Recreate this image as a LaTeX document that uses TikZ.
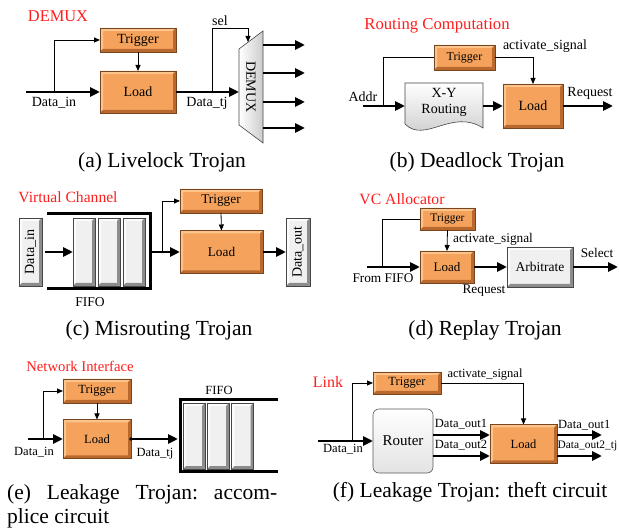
\documentclass[tikz,border=0pt]{standalone}
\usepackage{fontspec}
\setmainfont{Liberation Serif}
\usetikzlibrary{arrows.meta,calc}
\definecolor{orMain}{RGB}{245,163,92}
\definecolor{orLight}{RGB}{250,196,140}
\definecolor{orDark}{RGB}{185,105,45}
\definecolor{orLine}{RGB}{120,70,30}
\definecolor{gyMain}{RGB}{240,240,240}
\definecolor{gyLight}{RGB}{252,252,252}
\definecolor{gyDark}{RGB}{140,140,140}
\definecolor{gyLine}{RGB}{70,70,70}
\definecolor{ttlred}{RGB}{255,30,30}
\newcommand\fs[1]{\fontsize{#1}{#1}\selectfont}
\newcommand\bevelpic[2]{%
  \fill[#1] (path picture bounding box.north west) -- (path picture bounding box.north east)
    -- ([shift={(-3pt,-3pt)}]path picture bounding box.north east)
    -- ([shift={(3pt,-3pt)}]path picture bounding box.north west) -- cycle;
  \fill[#1] (path picture bounding box.north west) -- (path picture bounding box.south west)
    -- ([shift={(3pt,3pt)}]path picture bounding box.south west)
    -- ([shift={(3pt,-3pt)}]path picture bounding box.north west) -- cycle;
  \fill[#2] (path picture bounding box.south west) -- (path picture bounding box.south east)
    -- ([shift={(-3pt,3pt)}]path picture bounding box.south east)
    -- ([shift={(3pt,3pt)}]path picture bounding box.south west) -- cycle;
  \fill[#2] (path picture bounding box.north east) -- (path picture bounding box.south east)
    -- ([shift={(-3pt,3pt)}]path picture bounding box.south east)
    -- ([shift={(-3pt,-3pt)}]path picture bounding box.north east) -- cycle;
}
\tikzset{
  bevel/.style n args={4}{fill=#1, draw=#4, line width=0.6pt, path picture={\bevelpic{#2}{#3}}},
  obox/.style={bevel={orMain}{orLight}{orDark}{orLine}, inner sep=0pt, outer sep=0pt, font=\fs{14}},
  gbox/.style={bevel={gyMain}{gyLight}{gyDark}{gyLine}, inner sep=0pt, outer sep=0pt, font=\fs{14}},
  rbox/.style={draw=gray!70!black, line width=0.6pt, top color=white, bottom color=gray!22, rounded corners=6pt, inner sep=0pt, outer sep=0pt, font=\fs{15}},
  lbl/.style={inner sep=0pt, font=\fs{14}},
  ttl/.style={inner sep=0pt, text=ttlred, font=\fs{16}},
  captxt/.style={inner sep=0pt, font=\fs{21.5}},
  thk/.style={line width=2.6pt, -{Triangle[length=10pt,width=9pt]}},
  thkl/.style={line width=2.6pt},
  thn/.style={line width=0.8pt, -{Triangle[length=6pt,width=5pt]}},
  thnl/.style={line width=0.8pt},
  fifo/.style={line width=3pt, line join=miter},
}
\begin{document}
\begin{tikzpicture}[x=1pt,y=-1pt]
\useasboundingbox (0,0) rectangle (619,529);
\fill[white] (0,0) rectangle (619,529);
\clip (0,0) rectangle (619,529);

% ---------------- (a) ----------------
\node[ttl, font=\fs{16.4}] (a-ttl) at (58,16) {DEMUX};
\node[obox, minimum width=76pt, minimum height=24pt] (a-trig) at (138,40) {Trigger};
\node[obox, minimum width=76pt, minimum height=42pt] (a-load) at (138,92) {Load};
\coordinate (a-in) at (26,92);
\coordinate (a-br) at (54,92);
\draw[thk] (a-in) -- (a-load.west);
\draw[thn] (a-br) |- (a-trig.west);
\draw[thn] (a-trig.south) -- (a-load.north);
\node[lbl] (a-lin) at (54,103) {Data\_in};
\coordinate (a-dmTL) at (239,49);
\coordinate (a-dmTR) at (263,31);
\coordinate (a-dmBR) at (263,143);
\coordinate (a-dmBL) at (239,125);
\draw[gyLine, line width=0.6pt, left color=white, right color=gray!40] (a-dmTL) -- (a-dmTR) -- (a-dmBR) -- (a-dmBL) -- cycle;
\node[lbl, rotate=-90] (a-dm) at (251,87) {DEMUX};
\coordinate (a-dmin) at (239,92);
\draw[thk] (a-load.east) -- (a-dmin);
\coordinate (a-sel) at (212,92);
\coordinate (a-dmsel) at (248,42);
\draw[thn] (a-sel) |- ([yshift=14pt]a-dmsel) -- (a-dmsel);
\node[lbl] (a-sell) at (220,21) {sel};
\node[lbl] (a-ltj) at (207,103) {Data\_tj};
\foreach \yy [count=\k] in {45,73,102,128} {
  \coordinate (a-o\k) at (263,\yy);
  \coordinate (a-e\k) at (305,\yy);
  \draw[thk] (a-o\k) -- (a-e\k);
}
\node[captxt] (a-cap) at (162,162) {(a) Livelock Trojan};

% ---------------- (b) ----------------
\node[ttl, font=\fs{16.7}] (b-ttl) at (437,26) {Routing Computation};
\node[obox, font=\fs{12}, minimum width=61pt, minimum height=25pt] (b-trig) at (464.5,57.5) {Trigger};
\node[obox, minimum width=60pt, minimum height=44pt] (b-load) at (533,106) {Load};
\draw[gyLine, line width=0.6pt, top color=white, bottom color=gray!45]
  (405,83) -- (483,83) -- (483,128) .. controls (452,108) and (425,144) .. (405,124) -- cycle;
\node[lbl] (b-xy) at (444,93) {X-Y};
\node[lbl] (b-rt) at (444,110) {Routing};
\coordinate (b-din) at (405,106);
\coordinate (b-dout) at (483,106);
\coordinate (b-in) at (363,106);
\coordinate (b-br) at (383,106);
\draw[thk] (b-in) -- (b-din);
\draw[thnl] (b-br) |- (b-trig.west);
\draw[thn] (b-trig.east) -| (b-load.north);
\draw[thk] (b-dout) -- (b-load.west);
\coordinate (b-out) at (613,106);
\draw[thk] (b-load.east) -- (b-out);
\node[lbl] (b-addr) at (363,97) {Addr};
\node[lbl] (b-req) at (590,93) {Request};
\node[lbl] (b-act) at (545,46) {activate\_signal};
\node[captxt] (b-cap) at (477,162) {(b) Deadlock Trojan};

% ---------------- (c) ----------------
\begin{scope}[lbl/.append style={font=\fs{13.5}}]
\node[ttl, font=\fs{15.6}] (c-ttl) at (68,197) {Virtual Channel};
\node[gbox, minimum width=23pt, minimum height=68pt] (c-din) at (30.5,252) {\rotatebox{90}{\fs{14}Data\_in}};
\draw[fifo] (47,214) -- (150,214) -- (150,289) -- (47,289);
\node[gbox, minimum width=22pt, minimum height=68pt] (c-q1) at (84,252) {};
\node[gbox, minimum width=22pt, minimum height=68pt] (c-q2) at (109,252) {};
\node[gbox, minimum width=22pt, minimum height=68pt] (c-q3) at (134,252) {};
\draw[thk] ([xshift=3pt]c-din.east) -- (c-q1.west);
\node[lbl] (c-fifo) at (90,302) {FIFO};
\node[obox, font=\fs{13.3}, minimum width=82pt, minimum height=24pt] (c-trig) at (221,201) {Trigger};
\node[obox, font=\fs{13.3}, minimum width=83pt, minimum height=43pt] (c-load) at (221.5,252) {Load};
\coordinate (c-fo) at (150,252);
\coordinate (c-br) at (162,252);
\draw[thk] (c-fo) -- (c-load.west);
\draw[thn] (c-br) |- (c-trig.west);
\draw[thn] (c-trig.south) -- (c-load.north);
\node[gbox, minimum width=24pt, minimum height=68pt] (c-dout) at (298,252) {\rotatebox{90}{\fs{14}Data\_out}};
\draw[thk] (c-load.east) -- (c-dout.west);
\node[captxt] (c-cap) at (159,330) {(c) Misrouting Trojan};
\end{scope}

% ---------------- (d) ----------------
\begin{scope}[lbl/.append style={font=\fs{13.3}}]
\node[ttl, font=\fs{15.7}] (d-ttl) at (402,199) {VC Allocator};
\node[obox, font=\fs{11.5}, minimum width=55pt, minimum height=22pt] (d-trig) at (447.5,219) {Trigger};
\node[obox, font=\fs{13}, minimum width=54pt, minimum height=32pt] (d-load) at (447,267) {Load};
\coordinate (d-in) at (367,267);
\coordinate (d-br) at (382,267);
\draw[thk] (d-in) -- (d-load.west);
\draw[thnl] (d-br) |- (d-trig.west);
\draw[thn] (d-trig.south) -- (d-load.north);
\node[lbl] (d-act) at (493,239) {activate\_signal};
\node[lbl] (d-from) at (383,278) {From FIFO};
\node[gbox, font=\fs{13.5}, minimum width=66pt, minimum height=40pt] (d-arb) at (540,267) {Arbitrate};
\draw[thk] (d-load.east) -- (d-arb.west);
\node[lbl] (d-req) at (484,291) {Request};
\coordinate (d-out) at (618,267);
\draw[thk] (d-arb.east) -- (d-out);
\node[lbl] (d-sel) at (597,253) {Select};
\node[captxt] (d-cap) at (485,330) {(d) Replay Trojan};
\end{scope}

% ---------------- (e) ----------------
\begin{scope}[lbl/.append style={font=\fs{12.5}}]
\node[ttl, font=\fs{14.7}] (e-ttl) at (80,366) {Network Interface};
\node[obox, font=\fs{12.5}, minimum width=68pt, minimum height=24pt] (e-trig) at (97,391) {Trigger};
\node[obox, font=\fs{12.5}, minimum width=68pt, minimum height=39pt] (e-load) at (97,439) {Load};
\coordinate (e-in) at (28,439);
\coordinate (e-br) at (43,439);
\draw[thk] (e-in) -- (e-load.west);
\draw[thn] (e-br) |- (e-trig.west);
\draw[thn] (e-trig.south) -- (e-load.north);
\node[lbl] (e-lin) at (34,452) {Data\_in};
\coordinate (e-fin) at (178,439);
\draw[thk] (e-load.east) -- (e-fin);
\fill (e-load.east) circle (1.8pt);
\node[lbl] (e-ltj) at (155,454) {Data\_tj};
\draw[fifo] (278,400) -- (180,400) -- (180,471) -- (278,471);
\node[gbox, minimum width=22pt, minimum height=66pt] (e-q1) at (194,436) {};
\node[gbox, minimum width=22pt, minimum height=66pt] (e-q2) at (218,436) {};
\node[gbox, minimum width=22pt, minimum height=66pt] (e-q3) at (242.5,436) {};
\node[lbl] (e-fifo) at (219,390) {FIFO};
\node[captxt, anchor=base west] (e-cap1) at (7,499) {\hbox to 270pt{(e)\hfil Leakage\hfil Trojan:\hfil accom-}};
\node[captxt, anchor=base west] (e-cap2) at (7,523) {plice circuit};
\end{scope}

% ---------------- (f) ----------------
\begin{scope}[lbl/.append style={font=\fs{12.5}}]
\node[ttl, font=\fs{16}] (f-ttl) at (328,382) {Link};
\node[obox, font=\fs{12.5}, minimum width=68pt, minimum height=22pt] (f-trig) at (407,383) {Trigger};
\node[rbox, minimum width=60pt, minimum height=64pt] (f-rt) at (403,441) {Router};
\node[obox, font=\fs{12.5}, minimum width=67pt, minimum height=39pt] (f-load) at (523.5,444) {Load};
\coordinate (f-in) at (318,441);
\coordinate (f-br) at (352,441);
\draw[thk] (f-in) -- (f-rt.west);
\draw[thn] (f-br) |- (f-trig.west);
\draw[thn] (f-trig.east) -| (f-load.north);
\node[lbl] (f-act) at (485,375) {activate\_signal};
\node[lbl] (f-lin) at (343,449) {Data\_in};
\coordinate (f-r1) at (433,435);
\coordinate (f-r2) at (433,456);
\coordinate (f-l1) at (490,435);
\coordinate (f-l2) at (490,456);
\draw[thk] (f-r1) -- (f-l1);
\draw[thk] (f-r2) -- (f-l2);
\node[lbl] (f-do1) at (461,424) {Data\_out1};
\node[lbl] (f-do2) at (461,445) {Data\_out2};
\coordinate (f-s1) at (557,435);
\coordinate (f-s2) at (557,456);
\coordinate (f-e1) at (602,435);
\coordinate (f-e2) at (602,456);
\draw[thk] (f-s1) -- (f-e1);
\draw[thk] (f-s2) -- (f-e2);
\node[lbl, anchor=west] (f-o1) at (558,425) {Data\_out1};
\node[lbl, anchor=west, font=\fs{11.4}] (f-o2) at (557.5,446) {Data\_out2\_tj};
\node[captxt] (f-cap) at (470,492) {(f) Leakage Trojan: theft circuit};
\end{scope}
\end{tikzpicture}
\end{document}
